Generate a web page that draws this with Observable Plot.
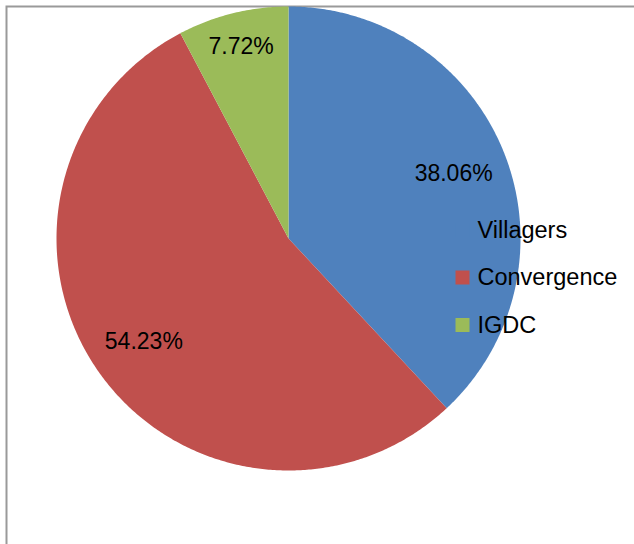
<!DOCTYPE html>
<html><head><meta charset="utf-8">
<script src="https://cdn.jsdelivr.net/npm/d3@7"></script>
<script src="https://cdn.jsdelivr.net/npm/@observablehq/plot@0.6"></script>
<style>
html,body{margin:0;padding:0;background:#fff;overflow:hidden;width:634px;height:544px}
#chart{width:634px;height:544px;overflow:hidden;position:relative}
#chart svg{max-width:none !important;display:block}
</style>
</head><body><div id="chart"></div>
<script>
const categories = ["Villagers", "Convergence", "IGDC"];
const shares = [38.06, 54.23, 7.72];
const labels = ["38.06%", "54.23%", "7.72%"];
const colors = ["#4F81BD", "#C0504D", "#9BBB59"];

const total = d3.sum(shares);
const slices = [];
let acc = 0;
categories.forEach((c, i) => {
  const a0 = acc / total * 2 * Math.PI;
  acc += shares[i];
  const a1 = acc / total * 2 * Math.PI;
  slices.push({category: c, a0, a1, value: shares[i], label: labels[i]});
});
const pts = [];
for (const s of slices) {
  pts.push({category: s.category, x: 0, y: 0});
  const n = Math.max(2, Math.ceil((s.a1 - s.a0) / (2 * Math.PI) * 720));
  for (let k = 0; k <= n; k++) {
    const a = s.a0 + (s.a1 - s.a0) * k / n;
    pts.push({category: s.category, x: Math.sin(a), y: Math.cos(a)});
  }
}
const labelPts = slices.map(s => {
  const m = (s.a0 + s.a1) / 2;
  const r = s.value / total < 0.1 ? 0.85 : 0.765;
  return {label: s.label, x: r * Math.sin(m), y: r * Math.cos(m)};
});

const font = "Liberation Sans, Arial, sans-serif";
const legendMarks = categories.flatMap((c, i) => [
  Plot.dot([c], {frameAnchor: "top-left", dx: 456, dy: 223.5 + 47.5 * i, symbol: "square", r: 7.9, fill: colors[i], stroke: "none"}),
  Plot.text([c], {frameAnchor: "top-left", dx: 471, dy: 223.5 + 47.5 * i, text: d => d, textAnchor: "start", lineAnchor: "middle", fontSize: 23.5, fontFamily: font, fill: "#000"})
]);

const chart = Plot.plot({
  width: 640,
  height: 550,
  marginLeft: 6,
  marginTop: 6,
  marginRight: 0,
  marginBottom: 0,
  x: {domain: [-1, 1], range: [56, 520], axis: null},
  y: {domain: [-1, 1], range: [470, 6], axis: null},
  color: {domain: categories, range: colors},
  style: {background: "#fff", overflow: "visible", maxWidth: "none"},
  marks: [
    Plot.frame({stroke: "#9a9a9a", strokeWidth: 2}),
    Plot.line(pts, {x: "x", y: "y", fill: "category", stroke: "none", curve: "linear-closed"}),
    Plot.text(labelPts, {x: "x", y: "y", text: "label", fontSize: 23, fontFamily: font, fill: "#000"}),
    ...legendMarks
  ]
});
document.getElementById("chart").appendChild(chart);
</script>
</body></html>
